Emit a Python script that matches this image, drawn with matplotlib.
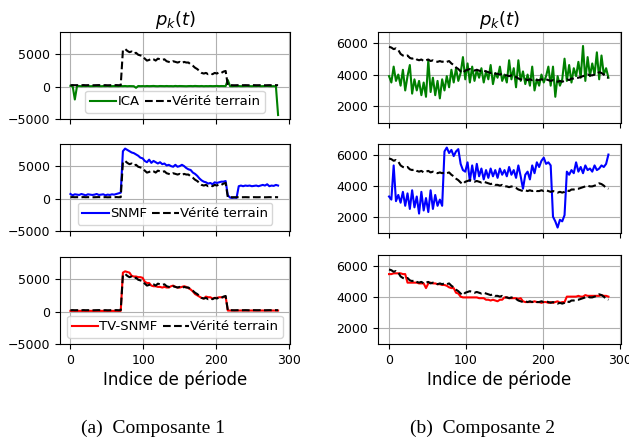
import numpy as np
import matplotlib
matplotlib.use("Agg")
import matplotlib.pyplot as plt

# period index (sampled every 3 periods)
t = np.arange(0, 288, 3)

# ---------------- Composante 1 ----------------
gt1 = [200, 220, 200, 210, 190, 200, 220, 200, 210, 200, 190, 200,
       210, 220, 200, 200, 210, 190, 200, 210, 200, 220, 200, 210,
       5600, 5800, 5500, 5300, 5400, 5100, 5200, 4900, 4800, 4700,
       4300, 4000, 4100, 4300, 4200, 4000, 4300, 4200, 4100, 4200,
       3900, 3800, 3700, 3900, 3800, 3700, 3800, 3600, 3800, 3700,
       3700, 3400, 3200, 2900, 2700, 2400, 2100, 2000, 2100, 1900,
       2000, 1900, 2100, 2000, 2200, 2100, 2300, 2400,
       200, 210, 200, 190, 200, 210, 200, 200, 210, 200, 190, 200,
       210, 200, 200, 210, 200, 190, 200, 210, 200, 200, 210, 200]

ica1 = [100, 80, -2000, 60, 80, 50, 70, 60, 80, 50, 60, 70,
        80, 60, 50, 70, 60, 80, 50, 60, 70, 60, 50, 80,
        60, 80, 50, 70, 60, 50, -200, 80, 60, 70,
        50, 80, 60, 70, 90, 60, 50, 80, 70, 60,
        80, 60, 70, 50, 90, 60, 80, 70, 60, 50,
        70, 80, 60, 90, 70, 60, 80, 50, 70, 60,
        80, 60, 70, 90, 60, 80, 70, 60,
        1000, 60, 50, 70, 60, 80, 50, 60, 70, 80, 60, 50,
        70, 60, 80, 50, 60, 70, 80, 60, 50, 60, 30, -4400]

snmf1 = [700, 500, 650, 600, 550, 700, 600, 500, 650, 600, 550, 600,
         700, 550, 600, 650, 500, 600, 550, 650, 600, 700, 800, 900,
         7300, 7700, 7500, 7300, 7100, 7000, 6800, 6600, 6300, 6200,
         5800, 5600, 6000, 5500, 5800, 5600, 5400, 5600, 5300, 5400,
         5100, 5200, 5000, 4900, 5200, 4900, 5000, 5200, 5000, 4700,
         4500, 4400, 4000, 3800, 3500, 3100, 2800, 2600, 2500, 2300,
         2400, 2200, 2500, 2400, 2500, 2600, 2600, 2700,
         500, 150, 100, 150, 100, 1900, 2000, 1900, 2000, 1950, 2000, 1900,
         1950, 2000, 1900, 2000, 2100, 2000, 2200, 1900, 2000, 1950, 2100, 2000]

tvsnmf1 = [100, 100, 100, 100, 100, 100, 100, 100, 100, 100, 100, 100,
           100, 100, 100, 100, 100, 100, 100, 100, 100, 100, 100, 100,
           6000, 6200, 6100, 6000, 5500, 5400, 5400, 5300, 5300, 5200,
           4600, 4400, 4400, 4000, 3900, 3900, 3800, 3800, 3700, 3800,
           3700, 3700, 3900, 4000, 3800, 3700, 3700, 3800, 3900, 3800,
           3600, 3400, 3100, 2700, 2500, 2300, 2100, 2000, 2300, 2200,
           2200, 2000, 2100, 2100, 2200, 2200, 2200, 2300,
           150, 150, 150, 150, 150, 150, 150, 150, 150, 150, 150, 150,
           150, 150, 150, 150, 150, 150, 150, 150, 150, 150, 150, 150]

# ---------------- Composante 2 ----------------
gt2 = [5750, 5700, 5600, 5650, 5550, 5300, 5200, 5150, 5200, 5050,
       5000, 5050, 4950, 4900, 4950, 4850, 4900, 4950, 4850, 4900,
       4850, 4800, 4850, 4800, 4850, 4800, 4850, 4700, 4600, 4450,
       4350, 4200, 4100, 4250, 4300, 4350, 4300, 4250, 4300, 4250,
       4200, 4250, 4200, 4150, 4100, 4150, 4050, 4050, 4000, 4050,
       3950, 3950, 3900, 3950, 3900, 3850, 3750, 3700, 3650, 3700,
       3650, 3700, 3650, 3700, 3650, 3650, 3700, 3650, 3700, 3650,
       3600, 3650, 3600, 3550, 3600, 3550, 3600, 3700, 3650, 3750,
       3750, 3800, 3800, 3850, 3900, 3950, 4000, 3950, 3950, 4000,
       4050, 4150, 4100, 4000, 3850, 3800]

ica2 = [3900, 3500, 4500, 3600, 4000, 3300, 4300, 3000, 3900, 4600,
        2800, 3700, 3000, 3600, 2700, 3500, 2600, 4900, 2900, 3800,
        2700, 3600, 2500, 3700, 3000, 3900, 3200, 4300, 3500, 4400,
        3600, 4100, 5100, 3700, 4700, 3500, 4500, 3600, 4300, 3800,
        4400, 3500, 4200, 3700, 4600, 3400, 4100, 3800, 4500, 3600,
        4000, 3500, 4900, 3700, 4400, 3200, 4900, 3600, 4200, 3400,
        4000, 3300, 4500, 3000, 3700, 3300, 4000, 3500, 3900, 4500,
        3300, 4500, 2600, 3900, 3300, 3700, 5000, 3600, 4600, 3500,
        4400, 3900, 4800, 3800, 5800, 3600, 5100, 3900, 4700, 4000,
        5400, 3700, 5200, 4000, 4400, 3800]

snmf2 = [3300, 3100, 5300, 3000, 3400, 2900, 3600, 2700, 3500, 2500,
         3700, 2600, 3300, 2200, 3600, 2400, 3200, 2300, 3700, 2500,
         3400, 2700, 3100, 2700, 6200, 6450, 6100, 6300, 5900, 6200,
         6350, 5400, 5000, 4900, 5500, 4300, 5300, 4400, 5400, 4600,
         5100, 4400, 5000, 4500, 5100, 4600, 5000, 4500, 5100, 4700,
         5000, 4600, 5200, 4700, 5000, 4500, 5300, 4600, 3800, 4700,
         4900, 4400, 5300, 4800, 5500, 5200, 5600, 5800, 5400, 5500,
         5300, 2000, 1700, 1300, 1800, 1700, 2100, 4900, 4700, 5000,
         4800, 5500, 4900, 5200, 4800, 5300, 5000, 5100, 4900, 5300,
         5000, 5100, 5300, 5200, 5400, 6000]

tvsnmf2 = [5450, 5450, 5500, 5500, 5500, 5500, 5450, 5450, 4900, 4900,
           4900, 4900, 4900, 4850, 4850, 4850, 4550, 4850, 4900, 4850,
           4850, 4800, 4800, 4750, 4750, 4700, 4600, 4550, 4550, 4250,
           4200, 4000, 3950, 3950, 3950, 3950, 3950, 3950, 3950, 3900,
           3900, 3900, 3800, 3800, 3750, 3800, 3750, 3700, 3800, 3800,
           3950, 3950, 3900, 3900, 3900, 3900, 3850, 3900, 3700, 3650,
           3650, 3650, 3650, 3700, 3650, 3650, 3600, 3650, 3650, 3600,
           3650, 3600, 3650, 3700, 3600, 3650, 3650, 4000, 4000, 4000,
           4000, 4000, 4050, 4000, 4000, 4100, 4050, 4050, 4050, 4050,
           4050, 4050, 4100, 4050, 4050, 4000]

left_series = [("ICA", ica1, "green"), ("SNMF", snmf1, "blue"), ("TV-SNMF", tvsnmf1, "red")]
right_series = [("ICA", ica2, "green"), ("SNMF", snmf2, "blue"), ("TV-SNMF", tvsnmf2, "red")]
gt_label = "Vérité terrain"
title_text = r"$p_k(t)$"
xlabel_text = "Indice de période"
captions = ["(a)  Composante 1", "(b)  Composante 2"]
xticks = [0, 100, 200, 300]
left_yticks = [-5000, 0, 5000]
right_yticks = [2000, 4000, 6000]

W, H = 629, 440
fig = plt.figure(figsize=(W / 100, H / 100), dpi=100)

def px_axes(x0, y0, x1, y1):
    return fig.add_axes([x0 / W, 1 - y1 / H, (x1 - x0) / W, (y1 - y0) / H])

left_rows = [(32, 119), (144, 231), (257, 344)]
right_rows = [(32, 123), (144, 233), (255, 344)]

for col, (series, gt, rows, x0, x1, ylim, yticks) in enumerate([
        (left_series, gt1, left_rows, 60, 290, (-5010, 8410), left_yticks),
        (right_series, gt2, right_rows, 378, 621, (950, 6680), right_yticks)]):
    for r, ((name, vals, color), (y0, y1)) in enumerate(zip(series, rows)):
        ax = px_axes(x0, y0, x1, y1)
        ax.plot(t, vals, color=color, lw=1.5, label=name)
        ax.plot(t, gt, color="black", ls="--", lw=1.5, label=gt_label)
        ax.set_xlim(-14.35, 301.35)
        ax.set_ylim(*ylim)
        ax.set_xticks(xticks)
        ax.set_yticks(yticks)
        ax.grid(True, color="#b0b0b0", lw=0.8)
        ax.tick_params(labelsize=9)
        if r < 2:
            ax.tick_params(labelbottom=False)
        else:
            ax.set_xlabel(xlabel_text, fontsize=12, labelpad=3)
        if r == 0:
            ax.set_title(title_text, fontsize=13, pad=5)
        if col == 0:
            ax.legend(loc="lower center", ncol=2, fontsize=9.5,
                      handletextpad=0.1, columnspacing=0.4,
                      borderpad=0.35, borderaxespad=0.45)

fig.text(153 / W, 1 - 428 / H, captions[0], ha="center", va="center",
         family="Liberation Serif", fontsize=14)
fig.text(483 / W, 1 - 428 / H, captions[1], ha="center", va="center",
         family="Liberation Serif", fontsize=14)

fig.savefig("out.png", dpi=100)
